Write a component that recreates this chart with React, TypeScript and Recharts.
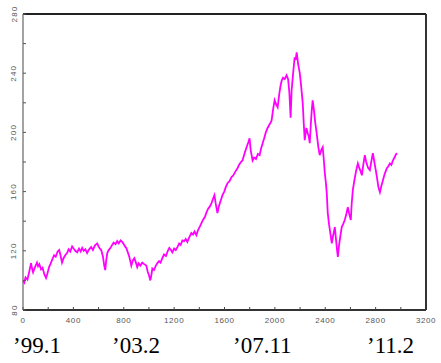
import React from "react";
import { LineChart, Line, XAxis, YAxis } from "recharts";

// trading day number and index level
const days = [
  0, 10, 20, 35, 50, 64, 72, 80, 95, 111,
  120, 130, 143, 155, 170, 183, 192, 207, 220, 232,
  247, 260, 275, 287, 298, 310, 322, 335, 350, 362,
  375, 390, 402, 415, 430, 445, 458, 470, 482, 495,
  509, 525, 541, 555, 570, 589, 600, 610, 621, 635,
  645, 653, 660, 669, 680, 695, 708, 720, 735, 748,
  760, 775, 788, 800, 810, 820, 832, 844, 852, 860,
  872, 884, 895, 907, 918, 932, 947, 962, 979, 990,
  1000, 1011, 1020, 1027, 1040, 1055, 1067, 1080, 1092, 1106,
  1120, 1135, 1150, 1162, 1175, 1186, 1200, 1213, 1226, 1240,
  1252, 1266, 1280, 1292, 1305, 1320, 1337, 1350, 1362, 1377,
  1390, 1405, 1417, 1430, 1445, 1457, 1470, 1484, 1496, 1508,
  1520, 1530, 1544, 1555, 1570, 1584, 1598, 1610, 1624, 1640,
  1656, 1670, 1686, 1703, 1715, 1730, 1743, 1760, 1775, 1788,
  1799, 1808, 1823, 1835, 1850, 1865, 1879, 1890, 1903, 1915,
  1928, 1942, 1955, 1965, 1974, 1985, 1998, 2010, 2022, 2035,
  2044, 2054, 2065, 2078, 2093, 2105, 2115, 2125, 2133, 2145,
  2157, 2165, 2173, 2185, 2197, 2208, 2221, 2230, 2237, 2250,
  2261, 2270, 2277, 2285, 2292, 2300, 2310, 2320, 2332, 2345,
  2356, 2368, 2380, 2390, 2396, 2405, 2412, 2420, 2430, 2442,
  2452, 2462, 2476, 2485, 2492, 2500, 2510, 2520, 2531, 2542,
  2555, 2568, 2579, 2590, 2603, 2610, 2619, 2630, 2645, 2659,
  2670, 2680, 2691, 2702, 2714, 2725, 2740, 2754, 2765, 2778,
  2790, 2800, 2810, 2822, 2834, 2846, 2858, 2872, 2889, 2900,
  2913, 2925, 2937, 2950, 2960, 2969,
];
const level = [
  100, 98.5, 102, 100.5, 106, 111.7, 108, 105.5, 109, 112,
  109.5, 111, 107.5, 108.5, 104, 101.6, 104, 109, 111.5, 114,
  117, 116, 119.5, 120.5, 117, 112, 115, 117, 118.5, 121,
  119.5, 123, 121.5, 120, 119, 121.5, 119.5, 122, 120, 121,
  118.5, 121, 122.5, 120.5, 123.5, 125, 123, 121.5, 120.5, 116,
  110, 107, 113, 118.5, 120.5, 122, 124, 125.5, 124.5, 126.6,
  125, 127, 126, 124.5, 123, 122, 119, 116, 113, 110,
  113.5, 115, 112.5, 109, 111.5, 110, 112, 111, 110, 106,
  103.5, 100, 104, 108, 107, 110, 111.7, 113, 112, 115,
  117.5, 116.5, 120, 122, 120.5, 119, 121.5, 120.5, 122.5, 125,
  124, 127, 126.5, 128, 126, 129, 132, 131, 133, 130.6,
  134, 136.5, 138.7, 141, 143, 146, 148.5, 150, 152, 155,
  157.6, 152, 145.5, 150, 154, 157.6, 160, 163, 165.7, 167,
  169.8, 171, 173.5, 175.8, 178, 180, 181, 186, 190, 193,
  196, 188, 181, 183, 182, 185.5, 184.6, 189, 192.7, 196,
  200, 203, 205, 206.5, 208, 215, 221.7, 219, 217, 226,
  231, 235, 237, 236, 238.6, 236, 227, 210, 228.5, 240,
  250.8, 249, 254, 246, 240.6, 232, 220, 205, 194.7, 203,
  199.5, 197, 192.7, 205, 214, 221.7, 215, 207, 199.5, 190,
  184.6, 188, 190, 180, 173, 166, 159, 145.5, 138, 131,
  125, 130, 136, 128, 122, 115.8, 124, 130, 136, 138,
  140.8, 145, 149.5, 145, 140.8, 152, 161, 167, 174, 179,
  176, 174, 171, 178, 184.6, 180, 176, 174.5, 180, 186,
  180, 175, 170, 163, 159.6, 164, 167.7, 172, 175.8, 177,
  179, 178, 181, 183, 185, 186,
];

const xTicks = [
  0, 200, 400, 600, 800, 1000, 1200, 1400, 1600, 1800, 2000, 2200, 2400,
  2600, 2800, 3000, 3200,
];
const yTicks = [80, 100, 120, 140, 160, 180, 200, 220, 240, 260, 280];

const dateLabels = ["\u201999.1", "\u201903.2", "\u201907.11", "\u201911.2"];
const dateLabelX = [13, 112, 233, 367];

const data = days.map((t, i) => ({ t, v: level[i] }));

const tickFont = "Arial, 'Liberation Sans', sans-serif";

const YTick = (props: any) => {
  const { x, y, payload } = props;
  if (payload.value % 40 !== 0) return null;
  return (
    <text
      x={x}
      y={y}
      transform={`rotate(-90 ${x} ${y})`}
      textAnchor="middle"
      dominantBaseline="central"
      fontSize={8}
      letterSpacing={1.2}
      fontFamily={tickFont}
      fill="#555"
    >
      {payload.value}
    </text>
  );
};

export default function App() {
  return (
    <div
      style={{
        position: "absolute",
        left: 0,
        top: 0,
        width: 441,
        height: 363,
        background: "#fff",
      }}
    >
      <LineChart
        width={441}
        height={363}
        data={data}
        margin={{ top: 13, right: 14, bottom: 33, left: 3 }}
      >
        <XAxis
          dataKey="t"
          type="number"
          domain={[0, 3200]}
          ticks={xTicks}
          interval={0}
          height={20}
          tickSize={-3}
          tickMargin={10}
          tickFormatter={(v: number) => (v % 400 === 0 ? String(v) : "")}
          tick={{
            fontSize: 8,
            fill: "#555",
            fontFamily: tickFont,
            letterSpacing: 0.6,
          }}
          axisLine={{ stroke: "#333", strokeWidth: 2 }}
          tickLine={{ stroke: "#444" }}
        />
        <XAxis
          xAxisId="top"
          orientation="top"
          dataKey="t"
          type="number"
          domain={[0, 3200]}
          ticks={xTicks}
          interval={0}
          height={1}
          tickSize={-3}
          tick={false}
          axisLine={{ stroke: "#222", strokeWidth: 2 }}
          tickLine={{ stroke: "#444" }}
        />
        <YAxis
          type="number"
          domain={[80, 280]}
          ticks={yTicks}
          interval={0}
          width={20}
          tickSize={-3}
          tickMargin={12}
          tick={<YTick />}
          axisLine={{ stroke: "#666", strokeWidth: 1.2 }}
          tickLine={{ stroke: "#555" }}
        />
        <YAxis
          yAxisId="right"
          orientation="right"
          type="number"
          domain={[80, 280]}
          ticks={yTicks}
          interval={0}
          width={1}
          tickSize={-3}
          tick={false}
          axisLine={{ stroke: "#333", strokeWidth: 2 }}
          tickLine={{ stroke: "#444" }}
        />
        <Line
          dataKey="v"
          type="linear"
          stroke="#ff00ff"
          strokeWidth={1.8}
          dot={false}
          isAnimationActive={false}
        />
      </LineChart>
      <svg
        width={441}
        height={363}
        style={{ position: "absolute", left: 0, top: 0, pointerEvents: "none" }}
      >
        {dateLabels.map((s, i) => (
          <text
            key={s}
            x={dateLabelX[i]}
            y={353}
            fontSize={23}
            fontFamily="'Liberation Serif', 'Times New Roman', serif"
            fill="#000"
          >
            {s}
          </text>
        ))}
      </svg>
    </div>
  );
}
